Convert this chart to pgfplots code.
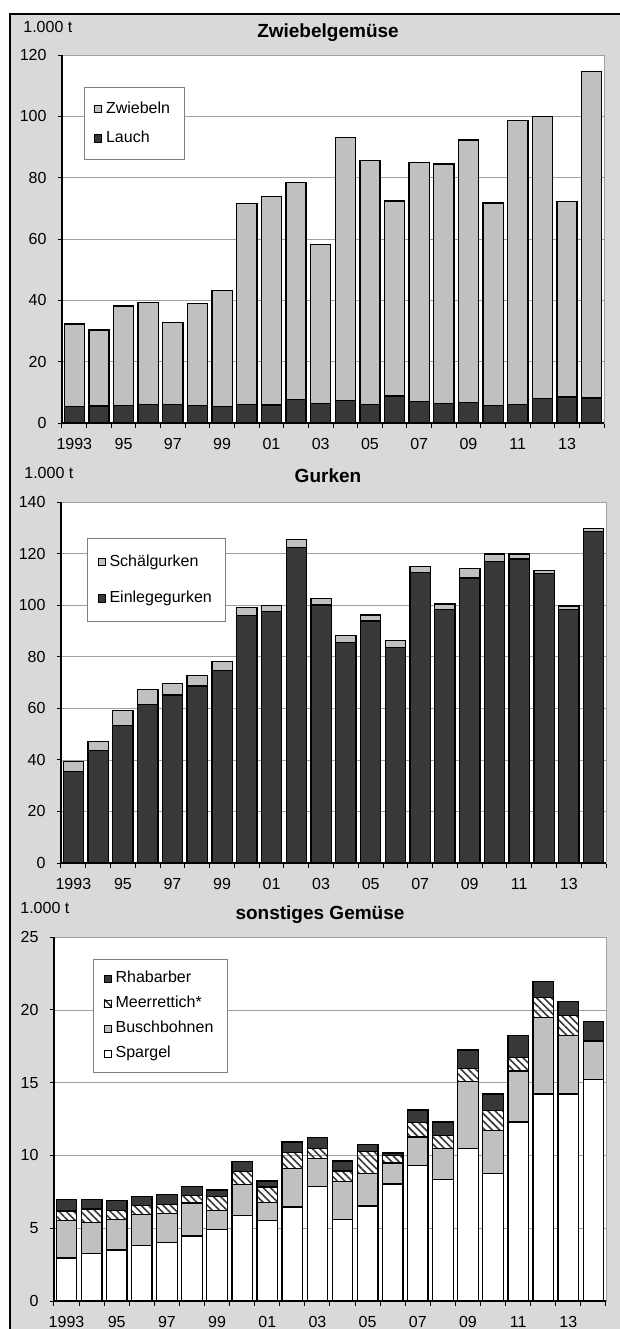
\documentclass[border=0pt]{standalone}
\usepackage{fontspec}
\setmainfont{Liberation Sans}
\usepackage{pgfplots}
\pgfplotsset{compat=1.18}
\usetikzlibrary{patterns.meta}
\definecolor{bg}{RGB}{217,217,217}
\definecolor{lg}{RGB}{192,192,192}
\definecolor{dk}{RGB}{56,56,56}
\definecolor{gridc}{RGB}{160,160,160}
\newcommand{\tf}{\fontsize{8}{9.6}\selectfont}
\pgfplotsset{
  panel/.style={
    scale only axis, anchor=south west,
    xmin=-0.5, xmax=21.5, ymin=0,
    ybar stacked, bar width=0.82,
    axis background/.style={fill=white},
    axis line style={draw=gridc, line width=0.3pt},
    xtick={0,2,...,20},
    xticklabels={1993,95,97,99,01,03,05,07,09,11,13},
    xtick pos=lower, ytick pos=left,
    major x tick style={draw=none},
    minor xtick={-0.5,0.5,...,21.5},
    minor x tick style={black, line width=0.5pt},
    major y tick style={black, line width=0.5pt},
    minor tick length=2.5pt, major tick length=2.2pt,
    tick align=outside,
    ymajorgrids, major grid style={gridc, line width=0.3pt},
    tick label style={font=\tf},
    /pgf/number format/assume math mode=true,
    xticklabel style={yshift=-2pt},
    yticklabel style={xshift=-2pt},
    every axis plot/.append style={draw=black, line width=0.65pt},
    legend cell align=left,
    reverse legend,
    legend image code/.code={\draw[#1,draw=black,line width=0.4pt] (0pt,-1.8pt) rectangle (3.6pt,1.8pt);},
    legend style={draw=gray, line width=0.4pt, fill=white, font=\tf, anchor=north west,
      inner xsep=5pt, inner ysep=4pt},
    after end axis/.code={\draw[black, line width=0.7pt] (rel axis cs:0,1) -- (rel axis cs:0,0) -- (rel axis cs:1,0);},
  },
  hatch/.style={pattern={Lines[angle=-45,distance=2.6pt,line width=0.8pt]}, pattern color=dk},
}
\begin{document}
\begin{tikzpicture}
\useasboundingbox (0,0) rectangle (310pt,-664.5pt);
\fill[bg] (5pt,-7pt) rectangle (310pt,-664.5pt);
\draw[black, line width=0.6pt] (5pt,-664.5pt) -- (5pt,-7pt) -- (310pt,-7pt);

% Panel 1
\node[anchor=west, inner sep=0pt, font=\tf] at (11.5pt,-13.5pt) {1.000 t};
\node[font=\bfseries\fontsize{9.5}{11}\selectfont] at (164pt,-16.5pt) {Zwiebelgemüse};
\begin{axis}[panel, at={(31pt,-211.5pt)}, width=271pt, height=184pt,
  ymax=120, ytick={0,20,...,120},
  legend style={at={(0.040,0.913)}, row sep=3.5pt, inner ysep=5pt}]
\addplot[fill=dk] coordinates {(0,5.3)(1,5.5)(2,5.7)(3,6.1)(4,6.1)(5,5.8)(6,5.4)(7,6.0)(8,5.9)(9,7.6)(10,6.4)(11,7.4)(12,6.0)(13,8.8)(14,7.0)(15,6.4)(16,6.8)(17,5.8)(18,6.1)(19,7.9)(20,8.5)(21,8.2)};
\addlegendentry{Lauch}
\addplot[fill=lg] coordinates {(0,27.0)(1,24.8)(2,32.5)(3,33.2)(4,26.6)(5,33.1)(6,37.8)(7,65.5)(8,67.9)(9,70.9)(10,51.9)(11,85.6)(12,79.6)(13,63.6)(14,77.9)(15,78.1)(16,85.5)(17,65.9)(18,92.5)(19,92.1)(20,63.7)(21,106.5)};
\addlegendentry{Zwiebeln}
\end{axis}

% Panel 2
\node[anchor=west, inner sep=0pt, font=\tf] at (12pt,-236.5pt) {1.000 t};
\node[font=\bfseries\fontsize{9.5}{11}\selectfont] at (164pt,-238pt) {Gurken};
\begin{axis}[panel, at={(30.5pt,-431.5pt)}, width=272.5pt, height=180.5pt,
  ymax=140, ytick={0,20,...,140},
  legend style={at={(0.048,0.900)}, row sep=7pt, inner ysep=6pt}]
\addplot[fill=dk] coordinates {(0,35.6)(1,43.5)(2,53.2)(3,61.4)(4,65.2)(5,68.6)(6,74.6)(7,96.0)(8,97.5)(9,122.4)(10,100.1)(11,85.5)(12,93.9)(13,83.7)(14,112.7)(15,98.2)(16,110.5)(17,116.8)(18,117.9)(19,112.4)(20,98.2)(21,128.7)};
\addlegendentry{Einlegegurken}
\addplot[fill=lg] coordinates {(0,3.9)(1,3.7)(2,6.0)(3,5.8)(4,4.3)(5,4.0)(6,3.5)(7,3.1)(8,2.5)(9,3.0)(10,2.4)(11,2.6)(12,2.3)(13,2.5)(14,2.4)(15,2.2)(16,3.6)(17,3.0)(18,1.9)(19,1.1)(20,1.5)(21,0.9)};
\addlegendentry{Schälgurken}
\end{axis}

% Panel 3
\node[anchor=west, inner sep=0pt, font=\tf] at (10pt,-454pt) {1.000 t};
\node[font=\bfseries\fontsize{9.5}{11}\selectfont] at (160pt,-457.5pt) {sonstiges Gemüse};
\begin{axis}[panel, at={(27pt,-650.5pt)}, width=276pt, height=182pt,
  ymax=25, ytick={0,5,...,25},
  legend style={at={(0.071,0.940)}, row sep=1.2pt, inner ysep=4pt}]
\addplot[fill=white] coordinates {(0,2.95)(1,3.27)(2,3.50)(3,3.80)(4,4.01)(5,4.47)(6,4.93)(7,5.85)(8,5.53)(9,6.45)(10,7.88)(11,5.58)(12,6.52)(13,8.04)(14,9.29)(15,8.36)(16,10.46)(17,8.76)(18,12.30)(19,14.22)(20,14.22)(21,15.21)};
\addlegendentry{Spargel}
\addplot[fill=lg] coordinates {(0,2.60)(1,2.12)(2,2.12)(3,2.14)(4,2.00)(5,2.26)(6,1.31)(7,2.17)(8,1.24)(9,2.63)(10,1.89)(11,2.62)(12,2.24)(13,1.43)(14,1.98)(15,2.10)(16,4.63)(17,2.97)(18,3.50)(19,5.23)(20,4.02)(21,2.64)};
\addlegendentry{Buschbohnen}
\addplot[hatch] coordinates {(0,0.63)(1,0.92)(2,0.62)(3,0.60)(4,0.63)(5,0.51)(6,0.93)(7,0.87)(8,1.06)(9,1.13)(10,0.71)(11,0.74)(12,1.52)(13,0.53)(14,1.01)(15,0.92)(16,0.87)(17,1.36)(18,0.94)(19,1.39)(20,1.35)(21,0.00)};
\addlegendentry{Meerrettich*}
\addplot[fill=dk] coordinates {(0,0.80)(1,0.67)(2,0.67)(3,0.63)(4,0.66)(5,0.64)(6,0.46)(7,0.67)(8,0.42)(9,0.71)(10,0.74)(11,0.67)(12,0.48)(13,0.16)(14,0.83)(15,0.92)(16,1.28)(17,1.13)(18,1.50)(19,1.12)(20,1.00)(21,1.33)};
\addlegendentry{Rhabarber}
\end{axis}
\end{tikzpicture}
\end{document}
